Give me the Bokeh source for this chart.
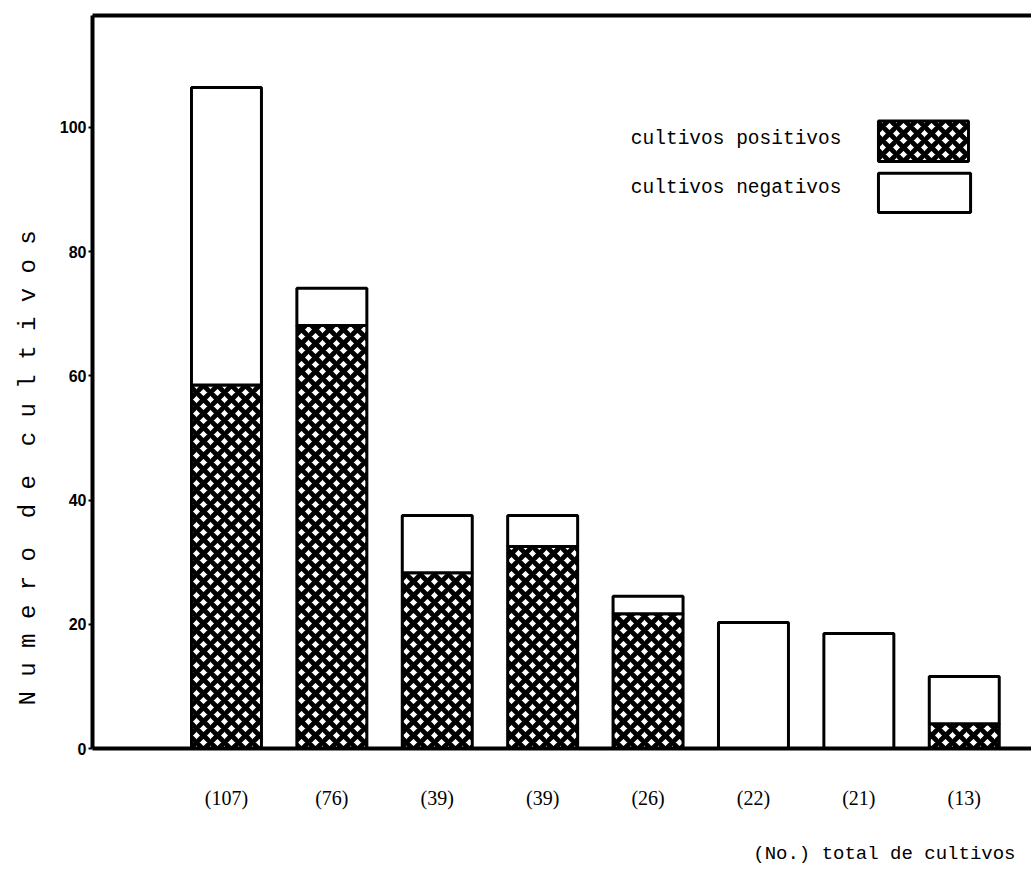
from bokeh.plotting import figure
from bokeh.models import (Range1d, FixedTicker, LinearAxis, Label, BoxAnnotation,
                          ColumnDataSource, Title)
from bokeh.embed import file_html
from bokeh.resources import INLINE

# ---------------- data ----------------
categories = ["(107)", "(76)", "(39)", "(39)", "(26)", "(22)", "(21)", "(13)"]
positivos = [58.5, 68.1, 28.3, 32.5, 21.7, 0.0, 0.0, 4.0]     # cultivos positivos
totales = [106.4, 74.1, 37.5, 37.5, 24.5, 20.3, 18.5, 11.6]   # bar heights as drawn
y_ticks = [0, 20, 40, 60, 80, 100]

x_pos = list(range(len(categories)))
negativos = [t - q for t, q in zip(totales, positivos)]

source = ColumnDataSource(dict(x=x_pos, pos=positivos, tot=totales, neg=negativos))

# ---------------- figure ----------------
p = figure(width=1031, height=893, output_backend="svg", toolbar_location=None,
           x_range=Range1d(-1.271, 7.638), y_range=Range1d(0, 118),
           min_border_left=92, min_border_right=0, min_border_top=15,
           min_border_bottom=145, background_fill_color="white",
           border_fill_color="white")
p.outline_line_color = None
p.xgrid.grid_line_color = None
p.ygrid.grid_line_color = None

# bottom axis
p.xaxis.ticker = FixedTicker(ticks=x_pos)
p.xaxis.major_label_overrides = {i: c for i, c in zip(x_pos, categories)}
p.xaxis.axis_line_width = 4
p.xaxis.axis_line_color = "black"
p.xaxis.major_tick_line_color = None
p.xaxis.minor_tick_line_color = None
p.xaxis.major_label_standoff = 32
p.xaxis.major_label_text_font = "Liberation Serif"
p.xaxis.major_label_text_font_size = "20px"
p.xaxis.major_label_text_color = "black"

# left axis
p.yaxis.ticker = FixedTicker(ticks=y_ticks)
p.yaxis.axis_line_width = 4
p.yaxis.axis_line_color = "black"
p.yaxis.major_tick_out = 4
p.yaxis.major_tick_in = 0
p.yaxis.major_tick_line_width = 2
p.yaxis.major_tick_line_color = "black"
p.yaxis.minor_tick_line_color = None
p.yaxis.major_label_standoff = 2
p.yaxis.major_label_text_font = "Liberation Sans"
p.yaxis.major_label_text_font_style = "bold"
p.yaxis.major_label_text_font_size = "16px"
p.yaxis.major_label_text_color = "black"

# top frame line
top_axis = LinearAxis(ticker=FixedTicker(ticks=[]), axis_line_width=4,
                      axis_line_color="black", major_tick_line_color=None,
                      minor_tick_line_color=None, major_label_text_font_size="0px")
p.add_layout(top_axis, "above")

# ---------------- bars ----------------
hatch = dict(hatch_pattern="diagonal_cross", hatch_color="black",
             hatch_scale=14, hatch_weight=4.8)
p.vbar(x="x", width=0.664, bottom=0, top="pos", source=source,
       fill_color="white", line_color="black", line_width=3, **hatch)
p.vbar(x="x", width=0.664, bottom="pos", top="tot", source=source,
       fill_color="white", line_color="black", line_width=3)

# ---------------- legend (text left, swatch right) ----------------
legend_font = "Liberation Mono"
p.add_layout(Label(x=5.835, y=98.1, text="cultivos positivos", text_align="right",
                   text_baseline="middle", text_font=legend_font,
                   text_font_size="19.5px", text_color="black"))
p.add_layout(Label(x=5.835, y=90.2, text="cultivos negativos", text_align="right",
                   text_baseline="middle", text_font=legend_font,
                   text_font_size="19.5px", text_color="black"))
p.add_layout(BoxAnnotation(left=6.186, right=7.04, bottom=94.5, top=101.0,
                           fill_color="white", fill_alpha=1, line_color="black",
                           line_alpha=1, line_width=3, **hatch))
p.add_layout(BoxAnnotation(left=6.186, right=7.06, bottom=86.3, top=92.6,
                           fill_color="white", fill_alpha=1, line_color="black",
                           line_alpha=1, line_width=3))

# ---------------- axis titles ----------------
nb = "\u00a0"
ylab = nb.join("Numero") + nb * 2 + nb.join("de") + nb * 2 + nb.join("cultivos")
p.add_layout(Title(text=ylab, align="left", offset=43, standoff=26,
                   vertical_align="top",
                   text_font="Liberation Mono", text_font_size="24px",
                   text_font_style="normal", text_color="black"), "left")
p.add_layout(Title(text="(No.) total de cultivos", align="right", offset=16,
                   standoff=58, text_font="Liberation Mono",
                   text_font_size="19px", text_font_style="normal",
                   text_color="black"), "below")

open("out.html", "w").write(file_html(p, INLINE))
